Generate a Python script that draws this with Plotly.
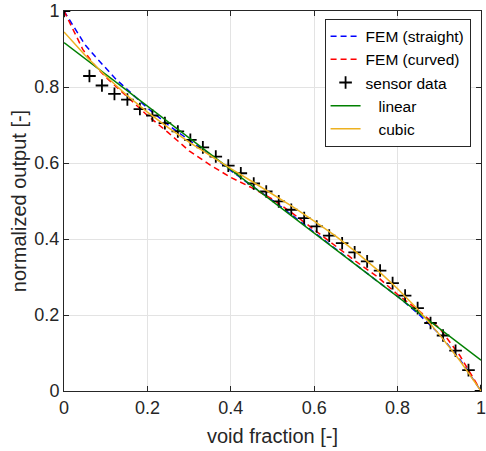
import plotly.graph_objects as go

# ---- data ----
fem_straight_x = [0.0, 0.025, 0.05, 0.075, 0.1, 0.125, 0.15, 0.175, 0.2, 0.25, 0.3, 0.35, 0.4, 0.45,
                  0.5, 0.55, 0.6, 0.65, 0.7, 0.75, 0.8, 0.85, 0.9, 0.95, 1.0]
fem_straight_y = [1.0, 0.957, 0.912, 0.880, 0.851, 0.820, 0.795, 0.770, 0.745, 0.700, 0.660, 0.623, 0.580, 0.540,
                  0.502, 0.460, 0.417, 0.374, 0.332, 0.290, 0.249, 0.203, 0.150, 0.082, 0.0]

fem_curved_x = [0.0, 0.02, 0.045, 0.07, 0.1, 0.15, 0.2, 0.25, 0.3, 0.35, 0.4, 0.45, 0.5,
                0.55, 0.6, 0.65, 0.7, 0.75, 0.8, 0.85, 0.9, 0.95, 1.0]
fem_curved_y = [1.0, 0.955, 0.899, 0.862, 0.826, 0.776, 0.725, 0.680, 0.632, 0.595, 0.562, 0.535, 0.505,
                0.466, 0.424, 0.381, 0.341, 0.302, 0.254, 0.212, 0.166, 0.092, 0.0]

sensor_x = [0.0, 0.061, 0.091, 0.121, 0.152, 0.182, 0.212, 0.242, 0.273, 0.303, 0.333, 0.364, 0.394,
            0.424, 0.455, 0.485, 0.515, 0.545, 0.576, 0.606, 0.636, 0.667, 0.697, 0.727, 0.758,
            0.788, 0.818, 0.848, 0.879, 0.909, 0.939, 0.970, 1.0]
sensor_y = [1.0, 0.829, 0.804, 0.782, 0.767, 0.742, 0.725, 0.705, 0.683, 0.661, 0.641, 0.617, 0.593,
            0.573, 0.546, 0.525, 0.499, 0.477, 0.455, 0.433, 0.409, 0.389, 0.365, 0.341, 0.317,
            0.284, 0.251, 0.218, 0.179, 0.146, 0.106, 0.055, 0.0]

linear_x = [0.0, 1.0]
linear_y = [0.917, 0.081]

cubic_x = [0.0, 0.05, 0.1, 0.15, 0.2, 0.25, 0.3, 0.35, 0.4, 0.45, 0.5, 0.55, 0.6, 0.65, 0.7,
           0.75, 0.8, 0.85, 0.9, 0.95, 1.0]
cubic_y = [0.945, 0.884, 0.829, 0.779, 0.734, 0.693, 0.655, 0.619, 0.585, 0.552, 0.518, 0.484,
           0.447, 0.409, 0.366, 0.320, 0.269, 0.213, 0.149, 0.079, 0.0]

tick_vals = [0, 0.2, 0.4, 0.6, 0.8, 1]
tick_text = ["0", "0.2", "0.4", "0.6", "0.8", "1"]

FONT = "Liberation Sans, Arial, sans-serif"
TXT = "#262626"

fig = go.Figure()
fig.add_trace(go.Scatter(x=fem_straight_x, y=fem_straight_y, mode="lines", name="FEM (straight)",
                         line=dict(color="#0000ff", width=1.5, dash="6px,4px")))
fig.add_trace(go.Scatter(x=fem_curved_x, y=fem_curved_y, mode="lines", name="FEM (curved)",
                         line=dict(color="#ff0000", width=1.5, dash="6px,4px")))
fig.add_trace(go.Scatter(x=sensor_x, y=sensor_y, mode="markers", name="sensor data",
                         marker=dict(symbol="cross-thin-open", size=9, color="black",
                                     line=dict(color="black", width=1.8))))
fig.add_trace(go.Scatter(x=linear_x, y=linear_y, mode="lines", name="\u00a0\u00a0\u00a0linear",
                         line=dict(color="#008000", width=1.5)))
fig.add_trace(go.Scatter(x=cubic_x, y=cubic_y, mode="lines", name="\u00a0\u00a0\u00a0cubic",
                         line=dict(color="#EDB120", width=1.5)))

axis_common = dict(
    range=[0, 1], tickvals=tick_vals, ticktext=tick_text,
    showgrid=True, gridcolor="#e3e3e3", gridwidth=1,
    showline=True, linecolor="#262626", linewidth=1, mirror="ticks",
    ticks="inside", ticklen=5, tickcolor="#262626", tickwidth=1,
    zeroline=False, tickfont=dict(family=FONT, size=18, color=TXT),
    ticklabeloverflow="allow", automargin=False,
)

fig.update_layout(
    width=486, height=451,
    margin=dict(l=64, r=5, t=11, b=60),
    paper_bgcolor="white", plot_bgcolor="white",
    font=dict(family=FONT, size=16, color=TXT),
    xaxis=dict(axis_common, title=dict(text="void fraction [-]", font=dict(family=FONT, size=20, color=TXT),
                                       standoff=12)),
    yaxis=dict(axis_common, title=dict(text="normalized output [-]", font=dict(family=FONT, size=20, color=TXT),
                                       standoff=2)),
    legend=dict(x=0.975, y=0.98, xanchor="right", yanchor="top",
                bgcolor="white", bordercolor="#262626", borderwidth=1,
                font=dict(family=FONT, size=15.5, color="black"),
                tracegroupgap=0, itemwidth=30),
    showlegend=True,
)

fig.write_html("out.html")
